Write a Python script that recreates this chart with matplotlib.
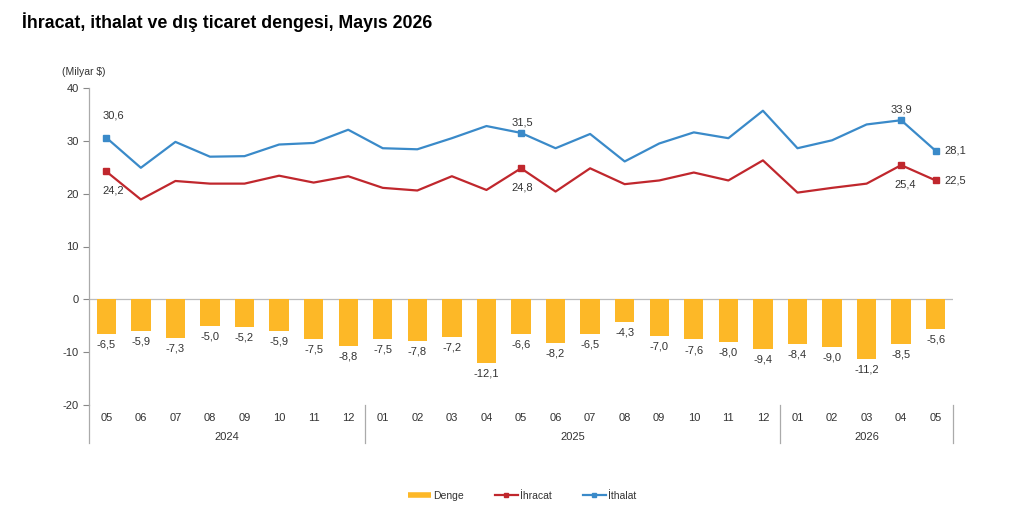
import matplotlib
matplotlib.use("Agg")
import matplotlib.pyplot as plt
from matplotlib.lines import Line2D
import numpy as np

plt.rcParams['font.family'] = ['Liberation Sans', 'DejaVu Sans']
plt.rcParams['axes.unicode_minus'] = False

months = ["05", "06", "07", "08", "09", "10", "11", "12",
          "01", "02", "03", "04", "05", "06", "07", "08", "09", "10", "11", "12",
          "01", "02", "03", "04", "05"]
years = ["2024", "2025", "2026"]
year_counts = [8, 12, 5]

denge = [-6.5, -5.9, -7.3, -5.0, -5.2, -5.9, -7.5, -8.8,
         -7.5, -7.8, -7.2, -12.1, -6.6, -8.2, -6.5, -4.3, -7.0, -7.6, -8.0, -9.4,
         -8.4, -9.0, -11.2, -8.5, -5.6]
ihracat = [24.2, 18.9, 22.4, 21.9, 21.9, 23.4, 22.1, 23.3,
           21.1, 20.6, 23.3, 20.7, 24.8, 20.4, 24.8, 21.8, 22.5, 24.0, 22.5, 26.3,
           20.2, 21.1, 21.9, 25.4, 22.5]
ithalat = [30.6, 24.9, 29.8, 27.0, 27.1, 29.3, 29.6, 32.1,
           28.6, 28.4, 30.5, 32.8, 31.5, 28.6, 31.3, 26.1, 29.5, 31.6, 30.5, 35.7,
           28.6, 30.1, 33.1, 33.9, 28.1]
marked = [0, 12, 23, 24]

c_bar = '#FDB827'
c_red = '#C0272D'
c_blue = '#3A8AC9'
c_txt = '#333333'

def fmt(v):
    return f"{v:.1f}".replace('.', ',')

fig = plt.figure(figsize=(10.12, 5.13), dpi=100)
ax = fig.add_axes([89/1012, 1-405/513, (953-89)/1012, (405-88)/513])

x = np.arange(len(months))
ax.bar(x, denge, width=0.56, color=c_bar, zorder=2)
ax.plot(x, ihracat, color=c_red, lw=1.6, zorder=3)
ax.plot(x, ithalat, color=c_blue, lw=1.6, zorder=3)
ax.plot(x[marked], np.array(ihracat)[marked], 's', color=c_red, ms=4, zorder=4)
ax.plot(x[marked], np.array(ithalat)[marked], 's', color=c_blue, ms=4, zorder=4)

ax.set_xlim(-0.5, len(months) - 0.5)
ax.set_ylim(-20, 40)
ax.set_yticks([-20, -10, 0, 10, 20, 30, 40])
ax.tick_params(axis='y', labelsize=8, colors='#888888', labelcolor=c_txt, length=4, width=0.8)
ax.set_xticks([])
ax.axhline(0, color='#BBBBBB', lw=0.9, zorder=1)
for s in ['top', 'right', 'bottom']:
    ax.spines[s].set_visible(False)
ax.spines['left'].set_color('#AAAAAA')
ax.spines['left'].set_linewidth(0.9)
ax.spines['left'].set_bounds(-20, 40)

# bar labels
for xi, v in zip(x, denge):
    ax.annotate(fmt(v), (xi, v), xytext=(0, -4), textcoords='offset points',
                ha='center', va='top', fontsize=8, color=c_txt)

# line labels
ax.annotate(fmt(ithalat[0]), (0, ithalat[0]), xytext=(5, 12), textcoords='offset points',
            ha='center', va='bottom', fontsize=8, color=c_txt)
ax.annotate(fmt(ihracat[0]), (0, ihracat[0]), xytext=(5, -10), textcoords='offset points',
            ha='center', va='top', fontsize=8, color=c_txt)
ax.annotate(fmt(ithalat[12]), (12, ithalat[12]), xytext=(1, 4), textcoords='offset points',
            ha='center', va='bottom', fontsize=8, color=c_txt)
ax.annotate(fmt(ihracat[12]), (12, ihracat[12]), xytext=(1, -10), textcoords='offset points',
            ha='center', va='top', fontsize=8, color=c_txt)
ax.annotate(fmt(ithalat[23]), (23, ithalat[23]), xytext=(0, 4), textcoords='offset points',
            ha='center', va='bottom', fontsize=8, color=c_txt)
ax.annotate(fmt(ihracat[23]), (23, ihracat[23]), xytext=(3, -10), textcoords='offset points',
            ha='center', va='top', fontsize=8, color=c_txt)
ax.annotate(fmt(ithalat[24]), (24, ithalat[24]), xytext=(6, 0), textcoords='offset points',
            ha='left', va='center', fontsize=8, color=c_txt)
ax.annotate(fmt(ihracat[24]), (24, ihracat[24]), xytext=(6, 0), textcoords='offset points',
            ha='left', va='center', fontsize=8, color=c_txt)

# category axis below
trans = ax.get_xaxis_transform()
for xi, m in zip(x, months):
    ax.text(xi, -0.04, m, transform=trans, ha='center', va='center', fontsize=8, color=c_txt)
start = 0
sep_kw = dict(transform=trans, color='#AAAAAA', lw=0.9, clip_on=False)
ax.plot([-0.5, -0.5], [0, -0.12], **sep_kw)
for yr, n in zip(years, year_counts):
    ax.text(start + (n - 1) / 2, -0.10, yr, transform=trans, ha='center', va='center',
            fontsize=8, color=c_txt)
    start += n
    ax.plot([start - 0.5, start - 0.5], [0, -0.12], **sep_kw)

ax.text(-0.031, 1.05, '(Milyar $)', transform=ax.transAxes, fontsize=7.5, color=c_txt,
        ha='left', va='center')

fig.text(22/1012, 1-22/513, 'İhracat, ithalat ve dış ticaret dengesi, Mayıs 2026',
         fontsize=12.8, fontweight='bold', ha='left', va='center', color='black')

handles = [Line2D([], [], color=c_bar, lw=4, solid_capstyle='butt'),
           Line2D([], [], color=c_red, lw=1.6, marker='s', ms=3),
           Line2D([], [], color=c_blue, lw=1.6, marker='s', ms=3)]
labels = ['Denge', 'İhracat', 'İthalat']
fig.legend(handles, labels, loc='center', bbox_to_anchor=(522/1012, 1-496/513), ncol=3,
           frameon=False, fontsize=7.5, handlelength=2.2, columnspacing=3.0,
           handletextpad=0.2, labelcolor=c_txt)

fig.savefig('out.png', dpi=100, facecolor='white')
